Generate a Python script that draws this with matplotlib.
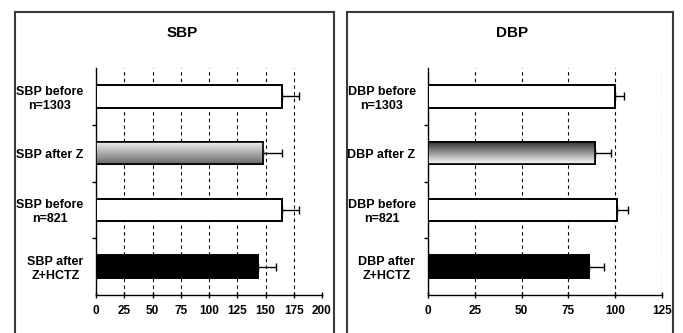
import numpy as np
import matplotlib
matplotlib.use("Agg")
import matplotlib.pyplot as plt
from matplotlib.patches import Rectangle
from matplotlib.colors import LinearSegmentedColormap

plt.rcParams['font.family'] = ['Liberation Sans', 'DejaVu Sans']
plt.rcParams['font.weight'] = 'bold'

# data
sbp_labels = ["SBP before\nn=1303", "SBP after Z", "SBP before\nn=821", "SBP after\nZ+HCTZ"]
sbp_vals = [165, 148, 165, 143]
sbp_err = [15, 17, 15, 16]

dbp_labels = ["DBP before\nn=1303", "DBP after Z", "DBP before\nn=821", "DBP after\nZ+HCTZ"]
dbp_vals = [100, 89, 101, 86]
dbp_err = [4.5, 9, 6, 8]

W, H = 683, 333
fig = plt.figure(figsize=(W / 100, H / 100), dpi=100)


def px(x0, y0, x1, y1):
    # pixel box (top-left origin) -> figure fraction rect
    return [x0 / W, 1 - y1 / H, (x1 - x0) / W, (y1 - y0) / H]


# panel frames
for x0, x1 in [(15, 334), (347, 673)]:
    r = px(x0, 12, x1, 340)
    fig.add_artist(Rectangle((r[0], r[1]), r[2], r[3], transform=fig.transFigure,
                             fill=False, ec='#3a3a3a', lw=1.5))


def panel(rect, labels, vals, err, xmax, step, title, tx, grad_top, grad_bot):
    ax = fig.add_axes(px(*rect))
    y = np.arange(len(vals))
    colors = ['white', 'white', 'white', 'black']
    bars = ax.barh(y, vals, height=0.4, color=colors, edgecolor='black', lw=1.4, zorder=3)
    ax.errorbar(vals, y, xerr=[[0] * len(err), err], fmt='none', ecolor='black',
                elinewidth=1, capsize=3, capthick=1, zorder=2)

    # vertical gradient fill for the "after Z" bar
    b = bars[1]
    bx, by = b.get_x(), b.get_y()
    bw, bh = b.get_width(), b.get_height()
    cmap = LinearSegmentedColormap.from_list('g', [grad_top, grad_bot])
    g = np.linspace(0, 1, 64).reshape(-1, 1)
    # y axis is inverted, so row 0 (at by) is drawn at the top
    im = ax.imshow(g, cmap=cmap, aspect='auto', origin='lower',
                   extent=[bx, bx + bw, by, by + bh], zorder=3.5)
    im.set_clip_path(b)
    ax.add_patch(Rectangle((bx, by), bw, bh, fill=False, ec='black', lw=1.2, zorder=4))

    ax.set_xlim(0, xmax)
    ax.set_ylim(3.5, -0.5)
    ax.set_xticks(np.arange(0, xmax + 1, step))
    ax.set_yticks(y)
    ax.set_yticklabels(labels, fontsize=9, fontweight='bold', multialignment='center')
    ax.set_yticks([0.5, 1.5, 2.5], minor=True)
    ax.tick_params(axis='y', which='major', length=0, pad=9)
    ax.tick_params(axis='y', which='minor', length=3, width=1, direction='out')
    ax.tick_params(axis='x', length=4, width=1, direction='inout', labelsize=8.5, pad=5)
    for t in ax.get_xticklabels():
        t.set_fontweight('bold')
    ax.grid(axis='x', ls=(0, (3, 3)), color='black', lw=0.8, zorder=1)
    ax.spines['top'].set_visible(False)
    ax.spines['right'].set_visible(False)
    ax.spines['left'].set_linewidth(1)
    ax.spines['bottom'].set_linewidth(1)
    fig.text(tx / W, 1 - 33 / H, title, ha='center', va='center', fontsize=11, fontweight='bold')
    return ax


ax1 = panel((96, 68, 322, 295), sbp_labels, sbp_vals, sbp_err, 200, 25, 'SBP', 182,
            '#f4f4f4', '#6a6a6a')
ax1.get_xgridlines()[-1].set_visible(False)
ax2 = panel((428, 68, 662, 295), dbp_labels, dbp_vals, dbp_err, 125, 25, 'DBP', 512,
            '#2e2e2e', '#fafafa')

fig.savefig('out.png', dpi=100)
